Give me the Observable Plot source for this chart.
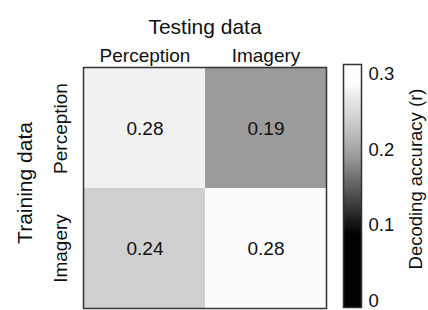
<!DOCTYPE html>
<html>
<head>
<meta charset="utf-8">
<script src="https://cdn.jsdelivr.net/npm/d3@7"></script>
<script src="https://cdn.jsdelivr.net/npm/@observablehq/plot@0.6"></script>
<style>
  html, body { margin: 0; padding: 0; background: #fff; }
  #wrap { position: relative; width: 428px; height: 310px; }
  #wrap > svg { position: absolute; left: 0; top: 0; }
</style>
</head>
<body>
<div id="wrap"></div>
<script>
// Data
const testingCats = ["Perception", "Imagery"];
const trainingCats = ["Perception", "Imagery"];
// rows: training, columns: testing
const accuracy = [
  [0.277, 0.19],
  [0.24, 0.284]
];
const colorbarTicks = [0, 0.1, 0.2, 0.3];
const colorDomain = [-0.01, 0.087, 0.19, 0.24, 0.276, 0.284, 0.313];
const colorRange = ["#000000", "#000000", "#9b9b9b", "#d0d0d0", "#f0f0f0", "#fbfbfb", "#ffffff"];

const cells = [];
trainingCats.forEach((tr, i) => testingCats.forEach((te, j) => cells.push({train: tr, test: te, value: accuracy[i][j]})));

const font = "Liberation Sans, Arial, Helvetica, sans-serif";
const colorScale = {type: "linear", domain: colorDomain, range: colorRange, clamp: true};

const heat = Plot.plot({
  width: 428, height: 310,
  marginLeft: 83, marginRight: 102, marginTop: 67, marginBottom: 2,
  style: {fontFamily: font, background: "transparent", color: "#111"},
  x: {domain: testingCats, padding: 0, axis: null},
  y: {domain: trainingCats, padding: 0, axis: null},
  color: colorScale,
  marks: [
    Plot.cell(cells, {x: "test", y: "train", fill: "value"}),
    Plot.frame({stroke: "#333", strokeWidth: 1.5}),
    Plot.text(cells, {x: "test", y: "train", text: d => d.value.toFixed(2), fontSize: 19, fill: "#111"}),
    Plot.text(testingCats, {x: d => d, text: d => d, frameAnchor: "top", dy: -19, fontSize: 19, fill: "#111"}),
    Plot.text(["Testing data"], {frameAnchor: "top", text: d => d, dy: -48, fontSize: 21, fill: "#111"}),
    Plot.text(trainingCats, {y: d => d, text: d => d, frameAnchor: "left", textAnchor: "middle", rotate: -90, dx: -23, fontSize: 19, fill: "#111"}),
    Plot.text(["Training data"], {frameAnchor: "left", textAnchor: "middle", text: d => d, rotate: -90, dx: -58, dy: -5, fontSize: 21, fill: "#111"})
  ]
});

const step = 0.001;
const barMin = -0.009, barMax = 0.313;
const bands = d3.range(barMin, barMax, step);
const bar = Plot.plot({
  width: 428, height: 310,
  marginLeft: 343, marginRight: 67, marginTop: 64, marginBottom: 3,
  style: {fontFamily: font, background: "transparent", color: "#111"},
  x: {domain: [0, 1], axis: null},
  y: {domain: [barMin, barMax], axis: null},
  color: colorScale,
  marks: [
    Plot.rect(bands, {x1: 0, x2: 1, y1: d => d, y2: d => Math.min(d + step * 1.5, barMax), fill: d => d, shapeRendering: "crispEdges"}),
    Plot.frame({stroke: "#333", strokeWidth: 1.5}),
    Plot.axisY({anchor: "right", ticks: colorbarTicks, tickSize: 0, tickPadding: 7, tickFormat: d => String(d), fontSize: 18.5, label: null}),
    Plot.text(["Decoding accuracy (r)"], {frameAnchor: "right", textAnchor: "middle", text: d => d, rotate: -90, dx: 55, dy: -7, fontSize: 18.5, fill: "#111"})
  ]
});

const wrap = document.getElementById("wrap");
wrap.appendChild(heat);
wrap.appendChild(bar);
</script>
</body>
</html>
